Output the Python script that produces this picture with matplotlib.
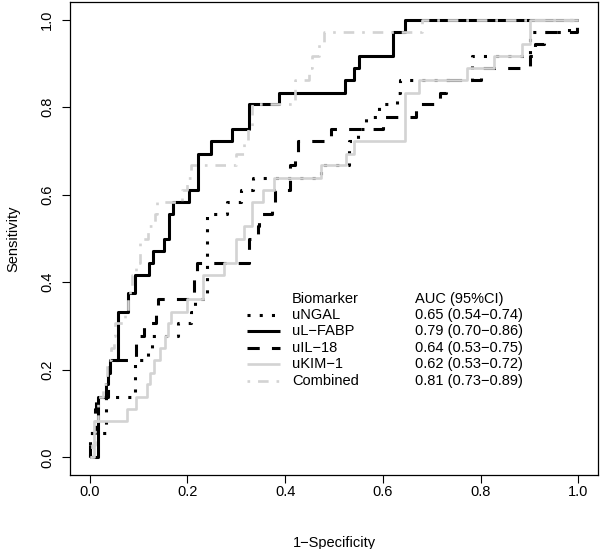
import numpy as np
import matplotlib
matplotlib.use("Agg")
import matplotlib.pyplot as plt

plt.rcParams['font.family'] = ['Liberation Sans', 'DejaVu Sans']

# ROC curves: (1-specificity, sensitivity) after each step
ngal_fpr = [0.0, 0.0, 0.034, 0.093, 0.12, 0.127, 0.181, 0.208, 0.215, 0.24, 0.282, 0.31, 0.335,
            0.473, 0.53, 0.55, 0.565, 0.593, 0.629, 0.636, 0.782, 0.9, 0.98, 1.0]
ngal_tpr = [0.0, 0.056, 0.139, 0.222, 0.25, 0.278, 0.306, 0.333, 0.361, 0.556, 0.583, 0.611, 0.639,
            0.667, 0.722, 0.75, 0.778, 0.806, 0.833, 0.861, 0.917, 0.972, 1.0, 1.0]

fabp_fpr = [0.0, 0.017, 0.034, 0.038, 0.041, 0.058, 0.078, 0.092, 0.122, 0.13, 0.153, 0.163, 0.171,
            0.204, 0.222, 0.248, 0.291, 0.327, 0.388, 0.522, 0.541, 0.552, 0.62, 0.646, 1.0]
fabp_tpr = [0.0, 0.139, 0.167, 0.194, 0.222, 0.333, 0.375, 0.417, 0.444, 0.472, 0.5, 0.556, 0.583,
            0.611, 0.694, 0.722, 0.75, 0.806, 0.833, 0.861, 0.889, 0.917, 0.972, 1.0, 1.0]

il18_fpr = [0.0, 0.0, 0.011, 0.013, 0.037, 0.04, 0.094, 0.112, 0.136, 0.14, 0.214, 0.22, 0.327,
            0.344, 0.347, 0.374, 0.38, 0.41, 0.42, 0.427, 0.493, 0.6, 0.667, 0.716, 0.73, 0.8,
            0.9, 0.912, 0.93, 0.997, 1.0]
il18_tpr = [0.0, 0.056, 0.111, 0.139, 0.194, 0.222, 0.278, 0.306, 0.333, 0.361, 0.417, 0.444, 0.5,
            0.528, 0.556, 0.583, 0.611, 0.667, 0.694, 0.722, 0.75, 0.778, 0.806, 0.833, 0.861, 0.889,
            0.917, 0.944, 0.972, 1.0, 1.0]

kim1_fpr = [0.0, 0.01, 0.077, 0.094, 0.117, 0.124, 0.132, 0.144, 0.155, 0.16, 0.167, 0.2, 0.233,
            0.276, 0.3, 0.316, 0.333, 0.354, 0.378, 0.473, 0.524, 0.541, 0.646, 0.673, 0.772, 0.827,
            0.885, 0.9, 1.0]
kim1_tpr = [0.0, 0.083, 0.111, 0.139, 0.167, 0.194, 0.222, 0.25, 0.278, 0.306, 0.333, 0.361, 0.417,
            0.444, 0.5, 0.528, 0.583, 0.611, 0.639, 0.667, 0.694, 0.722, 0.833, 0.861, 0.889, 0.917,
            0.944, 1.0, 1.0]

comb_fpr = [0.0, 0.005, 0.012, 0.018, 0.027, 0.035, 0.043, 0.049, 0.052, 0.072, 0.079, 0.082, 0.086,
            0.096, 0.103, 0.12, 0.133, 0.137, 0.19, 0.2, 0.207, 0.3, 0.316, 0.325, 0.333, 0.42, 0.449,
            0.455, 0.469, 0.48, 0.68, 1.0]
comb_tpr = [0.0, 0.028, 0.083, 0.139, 0.167, 0.222, 0.25, 0.278, 0.306, 0.333, 0.361, 0.389, 0.417,
            0.444, 0.5, 0.528, 0.556, 0.583, 0.611, 0.639, 0.667, 0.694, 0.722, 0.75, 0.806, 0.861,
            0.889, 0.917, 0.944, 0.972, 1.0, 1.0]

labels = ["uNGAL", "uL\u2212FABP", "uIL\u221218", "uKIM\u22121", "Combined"]
auc_text = ["0.65 (0.54\u22120.74)", "0.79 (0.70\u22120.86)", "0.64 (0.53\u22120.75)",
            "0.62 (0.53\u22120.72)", "0.81 (0.73\u22120.89)"]

curves = [(ngal_fpr, ngal_tpr), (fabp_fpr, fabp_tpr), (il18_fpr, il18_tpr),
          (kim1_fpr, kim1_tpr), (comb_fpr, comb_tpr)]
styles = [
    dict(color="black", lw=2.2, ls=(0, (1, 3))),
    dict(color="black", lw=2.2, ls="-"),
    dict(color="black", lw=2.2, ls=(0, (4, 4))),
    dict(color="#d3d3d3", lw=1.9, ls="-"),
    dict(color="#d3d3d3", lw=1.9, ls=(0, (1, 3, 4, 3))),
]

fs = 10.5

fig = plt.figure(figsize=(6.0, 5.49), dpi=100)
ax = fig.add_axes([70 / 600, 1 - 475 / 549, 528 / 600, 473 / 549])

for (x, y), st in zip(curves, styles):
    ax.plot(x, y, drawstyle="steps-post", color=st["color"], lw=st["lw"],
            linestyle=st["ls"], dash_capstyle="butt", solid_capstyle="butt")

ax.set_xlim(-0.04, 1.04)
ax.set_ylim(-0.04, 1.04)
ticks = [0.0, 0.2, 0.4, 0.6, 0.8, 1.0]
ax.set_xticks(ticks)
ax.set_yticks(ticks)
ax.set_xticklabels(["%.1f" % t for t in ticks])
ax.set_yticklabels(["%.1f" % t for t in ticks], rotation=90, va="center")
ax.tick_params(direction="out", length=5.5, width=0.8, labelsize=fs)
ax.tick_params(axis="x", pad=2)
ax.tick_params(axis="y", pad=6)
for s in ax.spines.values():
    s.set_linewidth(0.9)
ax.set_xlabel("1\u2212Specificity", fontsize=fs, labelpad=26)
ax.set_ylabel("Sensitivity", fontsize=fs, labelpad=14)

# legend drawn as in the R figure (no box, two text columns)
row0 = 0.363
dy = 0.0375
ax.text(0.414, row0, "Biomarker", fontsize=fs, va="center", ha="left")
ax.text(0.665, row0, "AUC (95%CI)", fontsize=fs, va="center", ha="left")
for i, st in enumerate(styles):
    yy = row0 - (i + 1) * dy
    ax.plot([0.322, 0.39], [yy, yy], color=st["color"], lw=st["lw"], linestyle=st["ls"],
            dash_capstyle="butt", solid_capstyle="butt")
    ax.text(0.414, yy, labels[i], fontsize=fs, va="center", ha="left")
    ax.text(0.665, yy, auc_text[i], fontsize=fs, va="center", ha="left")

fig.savefig("out.png", dpi=100)
